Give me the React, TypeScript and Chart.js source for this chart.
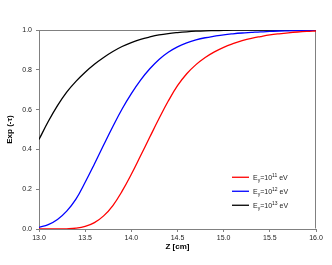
import React, { useEffect, useRef } from 'react';
import { Chart, registerables } from 'chart.js';

Chart.register(...registerables);

// Z [cm] sample positions
const zValues = [
  13.0, 13.1, 13.2, 13.3, 13.4, 13.5, 13.6, 13.7, 13.8, 13.9,
  14.0, 14.1, 14.2, 14.3, 14.4, 14.5, 14.6, 14.7, 14.8, 14.9,
  15.0, 15.1, 15.2, 15.3, 15.4, 15.5, 15.6, 15.7, 15.8, 15.9, 16.0,
];

// Exp(-tau) for E = 10^11 eV (red)
const seriesE11 = [
  0, 0, 0, 0.001, 0.004, 0.013, 0.032, 0.066, 0.118, 0.19,
  0.275, 0.368, 0.462, 0.555, 0.643, 0.72, 0.78, 0.826, 0.862, 0.89,
  0.913, 0.931, 0.946, 0.958, 0.967, 0.975, 0.981, 0.986, 0.99, 0.993, 0.995,
];

// Exp(-tau) for E = 10^12 eV (blue)
const seriesE12 = [
  0.008, 0.022, 0.048, 0.09, 0.15, 0.235, 0.327, 0.422, 0.515, 0.603,
  0.68, 0.748, 0.805, 0.852, 0.888, 0.915, 0.935, 0.95, 0.961, 0.969,
  0.976, 0.981, 0.985, 0.988, 0.991, 0.993, 0.995, 0.996, 0.997, 0.998, 0.999,
];

// Exp(-tau) for E = 10^13 eV (black)
const seriesE13 = [
  0.45, 0.54, 0.62, 0.688, 0.742, 0.788, 0.828, 0.862, 0.892, 0.917,
  0.937, 0.953, 0.965, 0.975, 0.982, 0.987, 0.991, 0.994, 0.996, 0.997,
  0.998, 0.999, 0.999, 1.0, 1.0, 1.0, 1.0, 1.0, 1.0, 1.0, 1.0,
];

const xTicks = [13.0, 13.5, 14.0, 14.5, 15.0, 15.5, 16.0];
const yTicks = [0.0, 0.2, 0.4, 0.6, 0.8, 1.0];

const seriesColors = ['#ff0000', '#0000ff', '#000000'];
const legendExponents = ['11', '12', '13'];

const xTitle = 'Z [cm]';
const yTitle = 'Exp (-τ)';

const FONT = '"Liberation Sans", Arial, sans-serif';

const framePlugin = {
  id: 'frame',
  beforeDatasetsDraw(chart: any) {
    const { ctx, chartArea } = chart;
    ctx.save();
    ctx.strokeStyle = '#808080';
    ctx.lineWidth = 1;
    const l = Math.round(chartArea.left) + 0.5;
    const r = Math.round(chartArea.right) - 0.5;
    const t = Math.round(chartArea.top) + 0.5;
    const b = Math.round(chartArea.bottom) - 0.5;
    ctx.beginPath();
    ctx.moveTo(l, t);
    ctx.lineTo(r, t);
    ctx.lineTo(r, b);
    ctx.stroke();
    ctx.restore();
  },
};

const legendPlugin = {
  id: 'innerLegend',
  afterDraw(chart: any) {
    const { ctx, chartArea } = chart;
    const yScale = chart.scales.y;
    ctx.save();
    const lineX0 = chartArea.right - 84;
    const lineX1 = lineX0 + 17;
    const textX = lineX1 + 4;
    const rowY0 = yScale.getPixelForValue(0.26);
    const rowGap = 14;
    chart.data.datasets.forEach((ds: any, i: number) => {
      const y = rowY0 + i * rowGap;
      ctx.strokeStyle = ds.borderColor;
      ctx.lineWidth = 1.3;
      ctx.beginPath();
      ctx.moveTo(lineX0, y);
      ctx.lineTo(lineX1, y);
      ctx.stroke();

      ctx.fillStyle = '#222';
      ctx.textBaseline = 'alphabetic';
      ctx.textAlign = 'left';
      const base = y + 2.5;
      let x = textX;
      ctx.font = `7px ${FONT}`;
      ctx.fillText('E', x, base);
      x += ctx.measureText('E').width;
      ctx.font = `5px ${FONT}`;
      ctx.fillText('γ', x, base + 2);
      x += ctx.measureText('γ').width;
      ctx.font = `7px ${FONT}`;
      ctx.fillText('=10', x, base);
      x += ctx.measureText('=10').width;
      ctx.font = `5px ${FONT}`;
      ctx.fillText(legendExponents[i], x, base - 3);
      x += ctx.measureText(legendExponents[i]).width;
      ctx.font = `7px ${FONT}`;
      ctx.fillText(' eV', x, base);
    });
    ctx.restore();
  },
};

export default function App() {
  const canvasRef = useRef<HTMLCanvasElement | null>(null);

  useEffect(() => {
    const canvas = canvasRef.current;
    if (!canvas) return;
    const allSeries = [seriesE11, seriesE12, seriesE13];
    const chart = new Chart(canvas, {
      type: 'line',
      data: {
        datasets: allSeries.map((s, i) => ({
          label: `E=10^${legendExponents[i]} eV`,
          data: zValues.map((z, j) => ({ x: z, y: s[j] })),
          borderColor: seriesColors[i],
          backgroundColor: seriesColors[i],
          borderWidth: 1.3,
          pointRadius: 0,
          tension: 0.4,
          fill: false,
        })),
      },
      options: {
        responsive: false,
        animation: false,
        devicePixelRatio: 1,
        layout: { padding: { left: 0, right: 16, top: 30, bottom: 0 } },
        plugins: {
          legend: { display: false },
          tooltip: { enabled: false },
        },
        scales: {
          x: {
            type: 'linear',
            min: 13,
            max: 16,
            afterBuildTicks: (scale: any) => {
              scale.ticks = xTicks.map((v) => ({ value: v }));
            },
            afterFit: (scale: any) => {
              scale.height = 36;
            },
            grid: {
              drawOnChartArea: false,
              drawTicks: true,
              tickLength: 3,
              tickColor: '#808080',
            },
            border: { display: true, color: '#808080', width: 1 },
            ticks: {
              autoSkip: false,
              maxRotation: 0,
              padding: 2,
              color: '#222',
              font: { family: FONT, size: 7 },
              callback: (v: any) => Number(v).toFixed(1),
            },
            title: {
              display: true,
              text: xTitle,
              color: '#000',
              font: { family: FONT, size: 8, weight: 'bold' },
              padding: { top: 0, bottom: 13 },
            },
          },
          y: {
            type: 'linear',
            min: 0,
            max: 1,
            afterBuildTicks: (scale: any) => {
              scale.ticks = yTicks.map((v) => ({ value: v }));
            },
            afterFit: (scale: any) => {
              scale.width = 39;
            },
            grid: {
              drawOnChartArea: false,
              drawTicks: true,
              tickLength: 3,
              tickColor: '#808080',
            },
            border: { display: true, color: '#808080', width: 1 },
            ticks: {
              autoSkip: false,
              padding: 4,
              color: '#222',
              font: { family: FONT, size: 7 },
              callback: (v: any) => Number(v).toFixed(1),
            },
            title: {
              display: true,
              text: yTitle,
              color: '#000',
              font: { family: FONT, size: 8, weight: 'bold' },
              padding: { top: 5, bottom: 0 },
            },
          },
        },
      },
      plugins: [framePlugin, legendPlugin],
    });
    return () => chart.destroy();
  }, []);

  return (
    <div style={{ position: 'absolute', left: 0, top: 0, width: 332, height: 265, background: '#fff' }}>
      <canvas ref={canvasRef} width={332} height={265} style={{ display: 'block' }} />
    </div>
  );
}
